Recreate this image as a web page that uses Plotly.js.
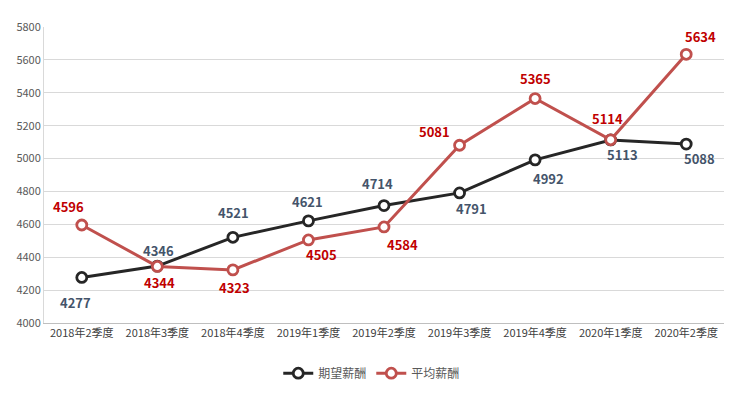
<!DOCTYPE html>
<html>
<head>
<meta charset="utf-8">
<script src="https://cdn.plot.ly/plotly-3.0.1.min.js"></script>
<style>html,body{margin:0;padding:0;background:#fff;}#chart{width:748px;height:397px;}</style>
</head>
<body>
<div id="chart"></div>
<script>
const categories = ["2018年2季度","2018年3季度","2018年4季度","2019年1季度","2019年2季度","2019年3季度","2019年4季度","2020年1季度","2020年2季度"];
const expectedName = "期望薪酬";
const averageName = "平均薪酬";
const expectedSalary = [4277, 4346, 4521, 4621, 4714, 4791, 4992, 5113, 5088];
const averageSalary = [4596, 4344, 4323, 4505, 4584, 5081, 5365, 5114, 5634];

// label placement (pixel shifts) — style only
const expShift = [[-6,-25],[1,16],[1,25],[-1,19],[-7,22],[12,-16],[13,-19],[12,-15],[13,-14]];
const avgShift = [[-13,18],[2,-16],[2,-18],[13,-15],[18,-18],[-25,14],[0,20],[-3,21],[14,18]];

const fontFam = '"Noto Sans CJK SC", "Microsoft YaHei", sans-serif';
const blk = '#262626', red = '#C0504D';

function trace(name, y, color){
  return {
    type:'scatter', mode:'lines+markers', name:name, x:categories, y:y,
    line:{color:color, width:3},
    marker:{symbol:'circle', size:10, color:'#ffffff', line:{color:color, width:2.8}},
    hoverinfo:'skip'
  };
}
const annotations = [];
expectedSalary.forEach((v,i)=>annotations.push({x:categories[i], y:v, text:String(v), showarrow:false,
  xshift:expShift[i][0], yshift:expShift[i][1], font:{family:fontFam, size:13, color:'#44546A', weight:'bold'}}));
averageSalary.forEach((v,i)=>annotations.push({x:categories[i], y:v, text:String(v), showarrow:false,
  xshift:avgShift[i][0], yshift:avgShift[i][1], font:{family:fontFam, size:13, color:'#C00000', weight:'bold'}}));

const layout = {
  width:748, height:397,
  margin:{l:44, r:24, t:27, b:74},
  paper_bgcolor:'#ffffff', plot_bgcolor:'#ffffff',
  font:{family:fontFam, color:'#595959', size:11},
  showlegend:true,
  legend:{orientation:'h', xref:'container', yref:'container', x:0.497, xanchor:'center', y:0.06, yanchor:'middle',
    font:{size:12, color:'#595959', family:fontFam}, itemwidth:30},
  xaxis:{type:'category', range:[-0.5, 8.5], showgrid:false, showline:true, linecolor:'#bfbfbf', linewidth:1,
    ticks:'', tickfont:{size:11, color:'#404040'}, fixedrange:true, zeroline:false},
  yaxis:{range:[4000,5800], dtick:200, showgrid:true, gridcolor:'#d9d9d9', gridwidth:1,
    showline:true, linecolor:'#d9d9d9', ticks:'', tickfont:{size:11, color:'#595959'}, zeroline:false, fixedrange:true},
  annotations:annotations
};
Plotly.newPlot('chart', [trace(expectedName, expectedSalary, blk), trace(averageName, averageSalary, red)], layout, {displayModeBar:false, staticPlot:true});
</script>
</body>
</html>
